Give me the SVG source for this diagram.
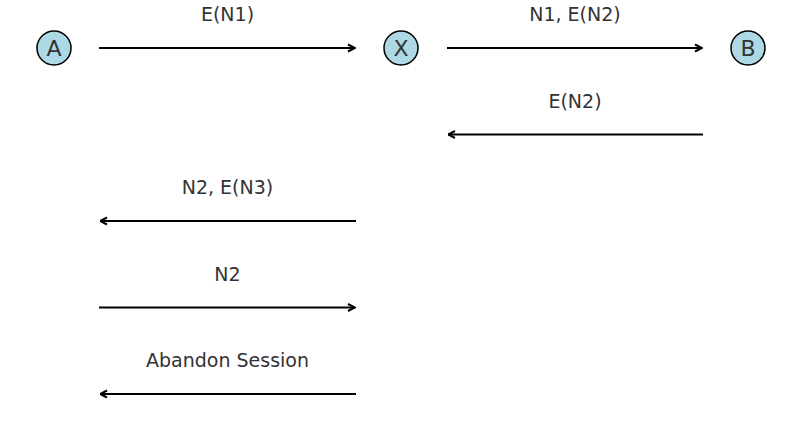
<svg xmlns="http://www.w3.org/2000/svg" width="800" height="426" viewBox="0 0 800 426">
<defs>
<marker id="arr" viewBox="0 0 10 10" refX="9.5" refY="5" markerWidth="10" markerHeight="10" markerUnits="userSpaceOnUse" orient="auto">
<path d="M2.5,1.5 L9.5,5 L2.5,8.5" fill="none" stroke="#000" stroke-width="2"/>
</marker>
<style>
.node circle{fill:#add8e6;stroke:#000;stroke-width:1.5}
.node text{font-family:"DejaVu Sans",sans-serif;font-size:22px;fill:#333;text-anchor:middle}
.lbl{font-family:"DejaVu Sans",sans-serif;font-size:19px;fill:#333;text-anchor:middle}
.edge{stroke:#000;stroke-width:2;fill:none;marker-end:url(#arr)}
</style>
</defs>
<rect width="800" height="426" fill="#fff"/>
<g id="A" class="node"><circle cx="54" cy="48" r="17"/><text x="54" y="56">A</text></g>
<g id="X" class="node"><circle cx="401" cy="48" r="17"/><text x="401" y="56">X</text></g>
<g id="B" class="node"><circle cx="748" cy="48" r="17"/><text x="748" y="56">B</text></g>
<g id="connectors">
<line class="edge" x1="99" y1="48" x2="355" y2="48"/>
<text class="lbl" x="227.5" y="21">E(N1)</text>
<line class="edge" x1="447" y1="48" x2="702" y2="48"/>
<text class="lbl" x="575" y="21">N1, E(N2)</text>
<line class="edge" x1="703" y1="134.5" x2="448" y2="134.5"/>
<text class="lbl" x="575" y="107.5">E(N2)</text>
<line class="edge" x1="356" y1="221" x2="100" y2="221"/>
<text class="lbl" x="227.5" y="194">N2, E(N3)</text>
<line class="edge" x1="99" y1="307.5" x2="355" y2="307.5"/>
<text class="lbl" x="227.5" y="280.5">N2</text>
<line class="edge" x1="356" y1="394" x2="100" y2="394"/>
<text class="lbl" x="227.5" y="366.5">Abandon Session</text>
</g>
</svg>
